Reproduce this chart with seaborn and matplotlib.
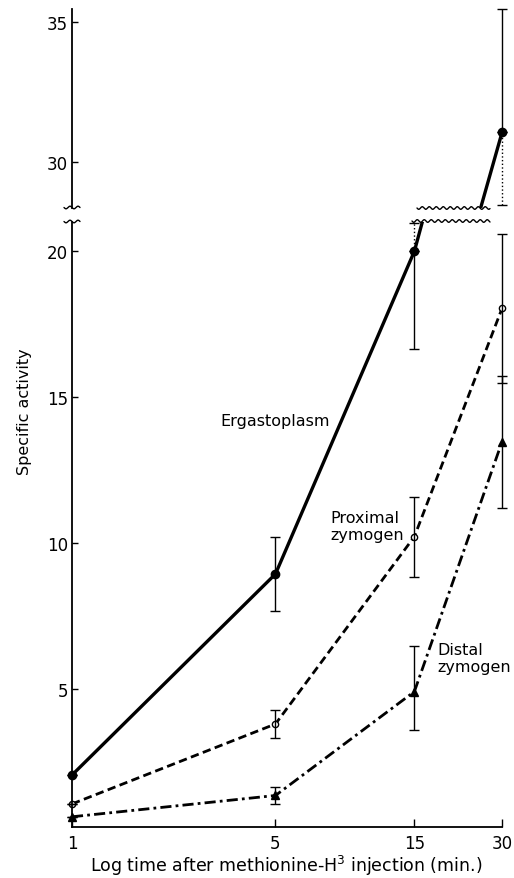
import numpy as np
import pandas as pd
import seaborn as sns
import matplotlib.pyplot as plt
from matplotlib.lines import Line2D

sns.set_style("ticks")
plt.rcParams['font.family'] = ['DejaVu Sans']
plt.rcParams.update({"text.color": "k", "axes.labelcolor": "k",
                     "xtick.color": "k", "ytick.color": "k", "axes.edgecolor": "k"})

# values
times = [1, 5, 15, 30]
ergastoplasm = [2.05, 8.94, 20.0, 31.06]
proximal = [1.06, 3.8, 10.22, 18.04]
distal = [0.62, 1.35, 4.91, 13.47]

erg_lo = [np.nan, 7.67, 16.64, np.nan]
erg_hi = [np.nan, 10.2, np.nan, 35.45]
prox_lo = [np.nan, 3.32, 8.84, 15.47]
prox_hi = [np.nan, 4.29, 11.58, 20.58]
dist_lo = [np.nan, 1.06, 3.61, 11.2]
dist_hi = [np.nan, 1.65, 6.48, 15.73]

W, H = 514, 879
LOW_LIM = (0.27, 21.0)
TOP_LIM = (28.36, 35.7)

fig = plt.figure(figsize=(W / 100, H / 100), dpi=100)
ax_lo = fig.add_axes([65.5 / W, (H - 828) / H, (508.2 - 65.5) / W, (828 - 223) / H])
ax_hi = fig.add_axes([65.5 / W, (H - 209) / H, (508.2 - 65.5) / W, (209 - 3.5) / H])

series = [
    ("Ergastoplasm", ergastoplasm, erg_lo, erg_hi, "-", "o", "k", 6, 2.4),
    ("Proximal zymogen", proximal, prox_lo, prox_hi, (0, (3, 1.6)), "o", "white", 4.5, 2.0),
    ("Distal zymogen", distal, dist_lo, dist_hi, (0, (4, 1.5, 1, 1.5)), "^", "k", 6, 2.0),
]

for ax in (ax_lo, ax_hi):
    for name, vals, lo, hi, ls, mk, mfc, ms, lw in series:
        df = pd.DataFrame({"time": times, "value": vals})
        sns.lineplot(data=df, x="time", y="value", ax=ax, color="k", lw=lw,
                     linestyle=ls, marker=mk, markersize=ms, markerfacecolor=mfc,
                     markeredgecolor="k", markeredgewidth=1.0)
        v = np.array(vals)
        yerr = [v - np.nan_to_num(np.array(lo), nan=v), np.nan_to_num(np.array(hi), nan=v) - v]
        ax.errorbar(times, v, yerr=yerr, fmt="none", ecolor="k", elinewidth=1.0,
                    capsize=3.5, capthick=1.0)

# dotted error bar parts running into the break
eb = ax_lo.errorbar([15], [ergastoplasm[2]], yerr=[[0], [20.95 - ergastoplasm[2]]],
                    fmt="none", ecolor="k", elinewidth=1.0, capsize=3.5, capthick=1.0)
eb.lines[2][0].set_linestyle(":")
eb = ax_hi.errorbar([30], [ergastoplasm[3]], yerr=[[ergastoplasm[3] - 28.45], [0]],
                    fmt="none", ecolor="k", elinewidth=1.0, capsize=3.5, capthick=1.0)
eb.lines[2][0].set_linestyle(":")

for ax in (ax_lo, ax_hi):
    ax.set_xscale("log")
    ax.set_xlim(0.95, 31.5)
    ax.spines["left"].set_position(("data", 1))
    ax.spines["right"].set_visible(False)
    ax.spines["top"].set_visible(False)
    ax.minorticks_off()
    ax.tick_params(direction="in", length=4, width=1, labelsize=12, pad=3)
    ax.set_xlabel("")
    ax.set_ylabel("")
    for s in ax.spines.values():
        s.set_linewidth(1.3)

ax_lo.set_ylim(*LOW_LIM)
ax_lo.spines["bottom"].set_bounds(1, 30)
ax_lo.set_yticks([5, 10, 15, 20])
ax_lo.set_xticks(times)
ax_lo.set_xticklabels([str(t) for t in times])
ax_lo.tick_params(axis="x", length=6, pad=5)

ax_hi.set_ylim(*TOP_LIM)
ax_hi.spines["left"].set_bounds(28.36, 35.46)
ax_hi.spines["bottom"].set_visible(False)
ax_hi.set_yticks([30, 35])
ax_hi.set_xticks([])
ax_hi.patch.set_alpha(0)

fig.text(286 / W, 1 - 866 / H, "Log time after methionine-H$^{3}$ injection (min.)",
         ha="center", va="center", fontsize=12.5)
fig.text(25 / W, 1 - 412 / H, "Specific activity", rotation=90, ha="center", va="center", fontsize=11.5)

# curve labels
fig.text(330 / W, 1 - 422 / H, "Ergastoplasm", ha="right", va="center", fontsize=11.5)
fig.text(330 / W, 1 - 527 / H, "Proximal\nzymogen", ha="left", va="center", fontsize=11.5, linespacing=1.2)
fig.text(437 / W, 1 - 659 / H, "Distal\nzymogen", ha="left", va="center", fontsize=11.5, linespacing=1.2)


def wavy(x0, x1, y, amp=1.3, period=7.0):
    xs = np.linspace(x0, x1, 200)
    ys = y + amp * np.sin(2 * np.pi * (xs - x0) / period)
    fig.add_artist(Line2D(xs / W, 1 - ys / H, color="k", lw=1.0, transform=fig.transFigure))


# break marks
wavy(64, 80, 208.5, period=8)
wavy(64, 80, 222.5, period=8)
wavy(417, 490, 209)
wavy(412, 490, 222)

fig.savefig("out.png", dpi=100)
